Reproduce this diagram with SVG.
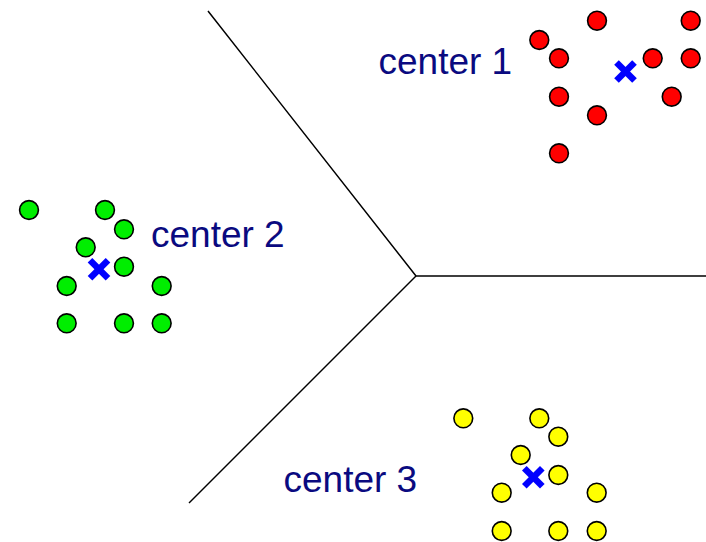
<svg xmlns="http://www.w3.org/2000/svg" width="706" height="542" viewBox="0 0 706 542">
<defs>
<style>
.pt{stroke:#000;stroke-width:1.6}
.red{fill:#ff0000}
.green{fill:#00ee00}
.yellow{fill:#ffff00}
.ctr{stroke:#0000ff;stroke-width:6.5;stroke-linecap:butt}
.lbl{font-family:"Liberation Sans",Arial,sans-serif;font-size:37px;fill:#0a0a80}
.bnd{stroke:#000;stroke-width:1.5;fill:none}
</style>
<g id="x"><line class="ctr" x1="-9" y1="-9" x2="9" y2="9"/><line class="ctr" x1="-9" y1="9" x2="9" y2="-9"/></g>
</defs>
<g id="boundaries">
<polyline class="bnd" points="208,11 416,276 706,276"/>
<line class="bnd" x1="416" y1="276" x2="189" y2="503"/>
</g>
<g id="cluster1">
<circle class="pt red" cx="597" cy="20.7" r="9.4"/>
<circle class="pt red" cx="690.7" cy="20.7" r="9.4"/>
<circle class="pt red" cx="539.3" cy="40" r="9.4"/>
<circle class="pt red" cx="559" cy="58.3" r="9.4"/>
<circle class="pt red" cx="652.7" cy="58.3" r="9.4"/>
<circle class="pt red" cx="690.7" cy="58.3" r="9.4"/>
<circle class="pt red" cx="559" cy="96.7" r="9.4"/>
<circle class="pt red" cx="671.7" cy="96.7" r="9.4"/>
<circle class="pt red" cx="597" cy="115.3" r="9.4"/>
<circle class="pt red" cx="559" cy="153.3" r="9.4"/>
<use href="#x" x="625.5" y="71.5"/>
<text class="lbl" x="378.5" y="74">center 1</text>
</g>
<g id="cluster2">
<circle class="pt green" cx="29" cy="210" r="9.4"/>
<circle class="pt green" cx="105" cy="210" r="9.4"/>
<circle class="pt green" cx="124" cy="229.3" r="9.4"/>
<circle class="pt green" cx="85.7" cy="247.3" r="9.4"/>
<circle class="pt green" cx="124" cy="266.7" r="9.4"/>
<circle class="pt green" cx="66.7" cy="286" r="9.4"/>
<circle class="pt green" cx="161.7" cy="286" r="9.4"/>
<circle class="pt green" cx="66.7" cy="323.3" r="9.4"/>
<circle class="pt green" cx="124" cy="323.3" r="9.4"/>
<circle class="pt green" cx="161.7" cy="323.3" r="9.4"/>
<use href="#x" x="99" y="269.3"/>
<text class="lbl" x="151" y="247">center 2</text>
</g>
<g id="cluster3">
<circle class="pt yellow" cx="463.3" cy="418.3" r="9.4"/>
<circle class="pt yellow" cx="539.3" cy="418.3" r="9.4"/>
<circle class="pt yellow" cx="558.3" cy="436.7" r="9.4"/>
<circle class="pt yellow" cx="520.7" cy="455" r="9.4"/>
<circle class="pt yellow" cx="558.3" cy="475" r="9.4"/>
<circle class="pt yellow" cx="501.7" cy="492.7" r="9.4"/>
<circle class="pt yellow" cx="596.7" cy="492.7" r="9.4"/>
<circle class="pt yellow" cx="501.7" cy="531" r="9.4"/>
<circle class="pt yellow" cx="558.3" cy="531" r="9.4"/>
<circle class="pt yellow" cx="596.7" cy="531" r="9.4"/>
<use href="#x" x="533.3" y="477.3"/>
<text class="lbl" x="283.5" y="492.3">center 3</text>
</g>
</svg>
